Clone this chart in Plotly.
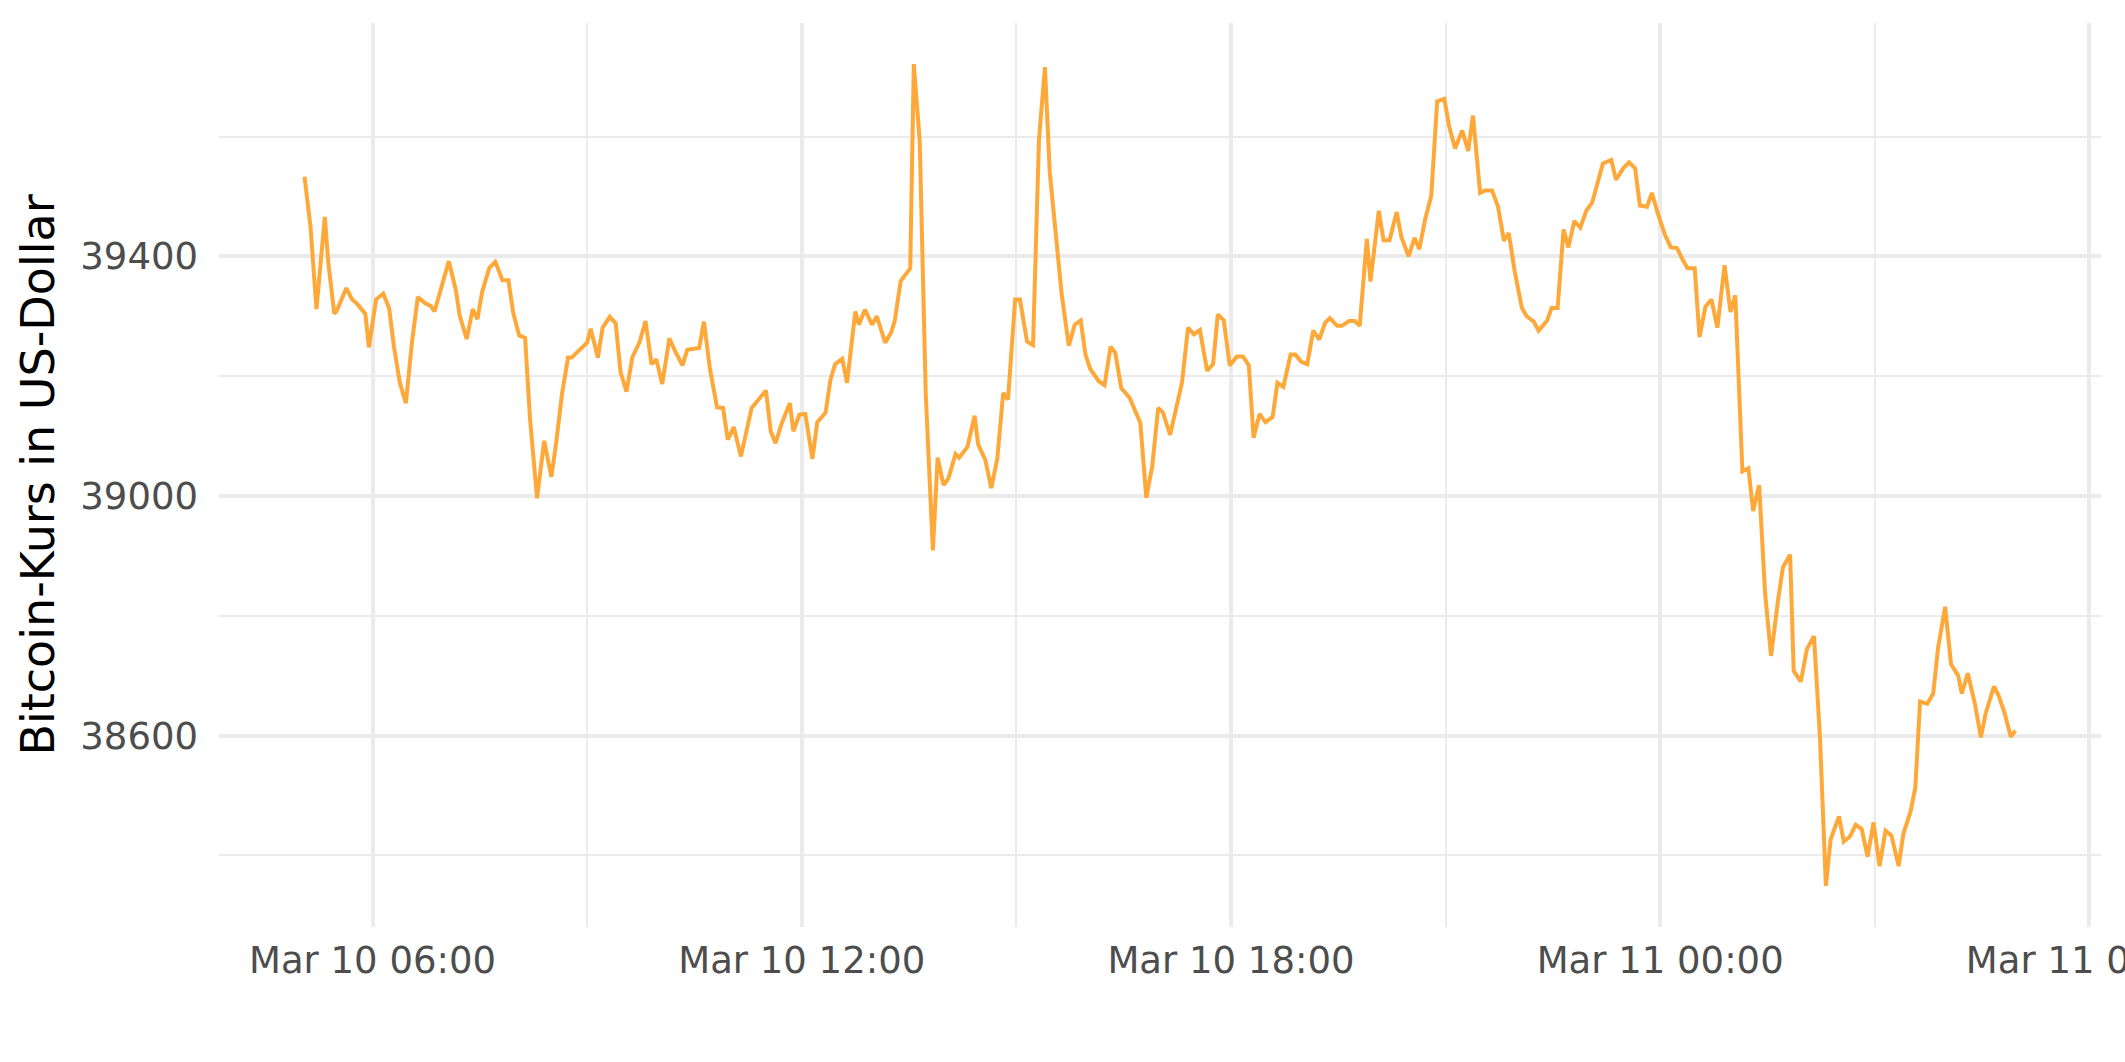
import plotly.graph_objects as go
import pandas as pd

# Bitcoin-Kurs (USD), 10./11. März 2022
zeit_10 = [
    "05:03", "05:08", "05:13", "05:20", "05:23", "05:28", "05:30", "05:38", "05:43", "05:47",
    "05:54", "05:57", "06:03", "06:09", "06:14", "06:18", "06:23", "06:28", "06:33", "06:38",
    "06:44", "06:49", "06:52", "06:58", "07:04", "07:10", "07:13", "07:19", "07:24", "07:28",
    "07:32", "07:38", "07:43", "07:49", "07:54", "07:58", "08:03", "08:08", "08:12", "08:18",
    "08:24", "08:30", "08:34", "08:39", "08:44", "08:47", "08:57", "09:00", "09:03", "09:09",
    "09:13", "09:19", "09:24", "09:28", "09:33", "09:38", "09:44", "09:49", "09:54", "09:58",
    "10:03", "10:09", "10:14", "10:20", "10:24", "10:34", "10:38", "10:43", "10:49", "10:54",
    "10:58", "11:03", "11:09", "11:18", "11:23", "11:30", "11:34", "11:38", "11:43", "11:50",
    "11:53", "11:58", "12:03", "12:09", "12:13", "12:20", "12:24", "12:28", "12:34", "12:38",
    "12:45", "12:48", "12:53", "12:59", "13:03", "13:10", "13:15", "13:18", "13:23", "13:31",
    "13:34", "13:39", "13:44", "13:50", "13:54", "13:59", "14:03", "14:09", "14:12", "14:19",
    "14:25", "14:28", "14:34", "14:39", "14:44", "14:49", "14:53", "14:59", "15:03", "15:09",
    "15:14", "15:19", "15:24", "15:28", "15:33", "15:38", "15:44", "15:49", "15:54", "15:58",
    "16:02", "16:09", "16:14", "16:19", "16:23", "16:28", "16:35", "16:40", "16:44", "16:49",
    "16:54", "16:59", "17:03", "17:09", "17:14", "17:19", "17:24", "17:29", "17:34", "17:40",
    "17:45", "17:49", "17:54", "17:59", "18:05", "18:10", "18:15", "18:19", "18:24", "18:29",
    "18:35", "18:39", "18:44", "18:50", "18:54", "18:59", "19:04", "19:09", "19:14", "19:19",
    "19:23", "19:29", "19:33", "19:39", "19:44", "19:48", "19:54", "19:57", "20:04", "20:08",
    "20:13", "20:19", "20:23", "20:29", "20:34", "20:38", "20:43", "20:48", "20:53", "20:59",
    "21:03", "21:08", "21:14", "21:19", "21:23", "21:29", "21:33", "21:39", "21:44", "21:49",
    "21:53", "21:58", "22:04", "22:08", "22:14", "22:18", "22:25", "22:29", "22:34", "22:39",
    "22:43", "22:48", "22:53", "22:58", "23:03", "23:07", "23:12", "23:19", "23:23", "23:29",
    "23:34", "23:39", "23:43", "23:49", "23:53", "23:58",
]
zeit_11 = [
    "00:04", "00:09", "00:14", "00:19", "00:23", "00:29", "00:33", "00:38", "00:43", "00:48",
    "00:54", "00:59", "01:03", "01:09", "01:14", "01:18", "01:23", "01:28", "01:33", "01:39",
    "01:43", "01:49", "01:52", "01:58", "02:03", "02:09", "02:14", "02:19", "02:23", "02:30",
    "02:34", "02:39", "02:44", "02:49", "02:54", "02:59", "03:04", "03:09", "03:14", "03:20",
    "03:24", "03:30", "03:34", "03:38", "03:44", "03:49", "03:53", "03:59", "04:04", "04:10",
    "04:13", "04:18", "04:24", "04:29", "04:33", "04:40", "04:44", "04:49", "04:54", "04:58",
]
kurs = [
    39533, 39449, 39312, 39466, 39388, 39304, 39309, 39347, 39328, 39321,
    39304, 39248, 39328, 39338, 39313, 39249, 39188, 39155, 39255, 39332,
    39322, 39317, 39308, 39349, 39392, 39343, 39302, 39262, 39312, 39295,
    39341, 39381, 39391, 39360, 39360, 39306, 39268, 39264, 39132, 38996,
    39092, 39032, 39088, 39171, 39231, 39231, 39249, 39256, 39279, 39231,
    39281, 39299, 39288, 39207, 39174, 39232, 39257, 39292, 39220, 39228,
    39187, 39263, 39241, 39218, 39244, 39247, 39291, 39212, 39148, 39147,
    39094, 39115, 39066, 39147, 39159, 39176, 39108, 39088, 39120, 39155,
    39108, 39136, 39137, 39062, 39123, 39139, 39193, 39220, 39229, 39189,
    39308, 39286, 39311, 39286, 39300, 39256, 39273, 39292, 39359, 39380,
    39721, 39592, 39171, 38909, 39064, 39018, 39029, 39070, 39064, 39082,
    39134, 39086, 39060, 39013, 39062, 39172, 39161, 39328, 39328, 39258,
    39252, 39595, 39716, 39541, 39439, 39337, 39251, 39286, 39293, 39236,
    39212, 39192, 39185, 39249, 39239, 39180, 39164, 39140, 39122, 38997,
    39050, 39147, 39139, 39102, 39145, 39190, 39281, 39270, 39277, 39209,
    39220, 39303, 39293, 39218, 39233, 39233, 39218, 39097, 39137, 39123,
    39132, 39189, 39182, 39236, 39236, 39224, 39220, 39276, 39261, 39289,
    39297, 39284, 39284, 39292, 39292, 39284, 39429, 39358, 39476, 39427,
    39427, 39474, 39432, 39400, 39431, 39412, 39463, 39501, 39659, 39663,
    39617, 39580, 39610, 39576, 39635, 39506, 39510, 39510, 39483, 39426,
    39439, 39375, 39314, 39300, 39291, 39276, 39292, 39314, 39314, 39445,
    39415, 39459, 39448, 39476, 39490, 39521, 39555, 39561, 39528, 39547,
    39557, 39547, 39485, 39483, 39506, 39472,
    39436, 39415, 39414, 39394, 39380, 39380, 39265, 39316, 39328, 39281,
    39385, 39307, 39335, 39041, 39046, 38975, 39018, 38838, 38733, 38828,
    38881, 38902, 38708, 38690, 38744, 38766, 38599, 38349, 38427, 38465,
    38423, 38431, 38451, 38444, 38398, 38455, 38382, 38441, 38433, 38382,
    38436, 38473, 38513, 38657, 38653, 38670, 38745, 38815, 38719, 38700,
    38670, 38704, 38653, 38597, 38637, 38682, 38666, 38637, 38598, 38608,
]

zeit = pd.to_datetime(["2022-03-10 " + t for t in zeit_10] + ["2022-03-11 " + t for t in zeit_11])

# ggplot-artige 5%-Erweiterung der Achsen
dx = (zeit.max() - zeit.min()) * 0.05
dy = (max(kurs) - min(kurs)) * 0.05
x_range = [zeit.min() - dx, zeit.max() + dx]
y_range = [min(kurs) - dy, max(kurs) + dy]

grid = "#EBEBEB"
tick_font = dict(family="DejaVu Sans", size=37, color="#4D4D4D")

fig = go.Figure()
fig.add_trace(go.Scatter(
    x=zeit,
    y=kurs,
    mode="lines",
    line=dict(color="#FFA83A", width=4),
    showlegend=False,
))

fig.update_layout(
    width=2125,
    height=1062,
    paper_bgcolor="white",
    plot_bgcolor="white",
    margin=dict(l=219, r=24, t=23, b=135),
    xaxis=dict(
        type="date",
        range=x_range,
        automargin=False,
        tick0="2022-03-10 00:00",
        dtick=6 * 3600 * 1000,
        tickformat="%b %d %H:%M",
        tickfont=tick_font,
        ticklabeloverflow="allow",
        showgrid=True,
        gridcolor=grid,
        gridwidth=3.5,
        zeroline=False,
        showline=False,
        ticks="",
        ticklabelstandoff=8,
        minor=dict(dtick=3 * 3600 * 1000, showgrid=True, gridcolor=grid, gridwidth=1.8),
    ),
    yaxis=dict(
        range=y_range,
        automargin=False,
        tick0=38600,
        dtick=400,
        tickformat="d",
        tickfont=tick_font,
        showgrid=True,
        gridcolor=grid,
        gridwidth=3.5,
        zeroline=False,
        showline=False,
        ticks="",
        ticklabelstandoff=20,
        minor=dict(dtick=200, showgrid=True, gridcolor=grid, gridwidth=1.8),
        title=dict(
            text="Bitcoin-Kurs in US-Dollar",
            font=dict(family="DejaVu Sans", size=46, color="black"),
            standoff=11,
        ),
    ),
)

fig.write_html(
    "out.html",
    config={"displayModeBar": False},
    post_script="document.body.style.margin='0';",
)
